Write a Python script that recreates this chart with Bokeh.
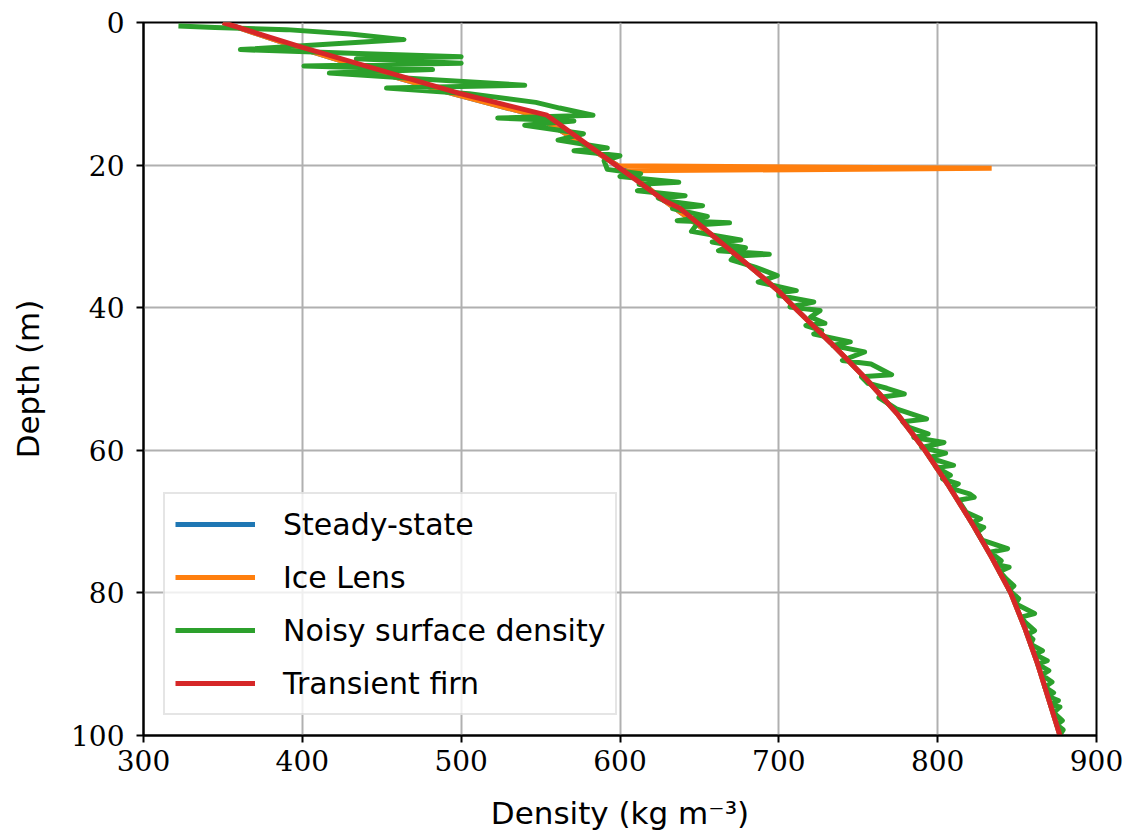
from bokeh.plotting import figure
from bokeh.models import Range1d, FixedTicker
from bokeh.embed import file_html
from bokeh.resources import INLINE

# ---- data ----
ss_depth = [0, 3.5, 7, 10, 13, 16, 20.1, 20.8, 25, 30, 35, 37.7, 40, 45, 50, 55, 60, 65, 70, 75, 80, 85, 90, 95, 100]
ss_density = [350, 397, 448, 495, 546, 569, 599, 604, 628, 659, 686, 700, 710, 733, 755, 775, 792, 807, 821, 834, 846, 855, 863, 870, 877]

lens_depth = [0, 3.5, 7, 10, 13, 16, 20.1, 20.45, 20.8, 25, 30, 35, 37.7, 40, 45, 50, 55, 60, 65, 70, 75, 80, 85, 90, 95, 100]
lens_density = [350, 397, 448, 495, 546, 569, 599, 834, 604, 628, 659, 686, 700, 710, 733, 755, 775, 792, 807, 821, 834, 846, 855, 863, 870, 877]

noisy_depth = [0.5, 0.7, 1.0, 1.6, 2.4, 3.8, 4.4, 4.8, 5.1, 5.7, 6.1, 6.6, 7.1, 8.0, 8.8, 9.2, 10.0, 11.2,
               12.0, 13.0, 13.4, 13.8, 14.4, 15.6, 16.5, 17.6, 18.0, 18.7, 19.4, 20.6, 21.2, 21.4, 21.6, 22.4,
               22.7, 23.0, 23.6, 24.3, 24.6, 25.0, 25.7, 26.1, 27.2, 27.8, 28.1, 28.4, 29.3, 30.5, 30.8, 31.6,
               31.8, 32.0, 32.5, 32.8, 33.3, 34.3, 35.5, 36.4, 37.6, 37.9, 38.3, 39.2, 39.9, 40.4, 41.3, 42.2,
               42.5, 43.2, 43.7, 44.8, 45.3, 46.2, 47.4, 47.9, 49.4, 49.7, 50.6, 51.3, 52.1, 52.6, 54.2, 55.6,
               56.0, 56.8, 57.7, 58.2, 58.9, 59.6, 60.4, 61.0, 61.4, 62.1, 62.4, 63.5, 64.0, 64.7, 65.3, 66.1,
               66.6, 67.0, 68.7, 69.6, 70.2, 70.8, 71.5, 72.6, 73.8, 74.3, 75.5, 76.0, 76.4, 77.0, 78.0, 79.0,
               79.6, 80.8, 81.5, 82.9, 83.4, 84.1, 85.3, 85.8, 86.5, 87.2, 88.1, 88.6, 89.5, 90.0, 90.9, 91.5,
               92.5, 93.2, 94.0, 94.5, 95.1, 95.7, 96.0, 96.8, 97.9, 98.5, 99.2, 99.9]
noisy_density = [322, 345, 390, 430, 464, 361, 440, 500, 434, 500, 401, 482, 417, 480, 540, 453, 505, 547,
                 562, 583, 523, 571, 540, 577, 561, 592, 571, 600, 590, 592, 613, 602, 600, 637,
                 612, 618, 611, 641, 624, 628, 652, 633, 655, 636, 669, 648, 645, 676, 658, 679,
                 664, 662, 694, 672, 670, 685, 699, 687, 711, 700, 700, 722, 707, 726, 720, 729,
                 717, 727, 722, 745, 734, 754, 740, 758, 771, 752, 756, 768, 779, 763, 774, 793,
                 778, 782, 794, 785, 804, 790, 805, 795, 800, 810, 799, 808, 803, 813, 808, 820,
                 823, 813, 818, 827, 821.5, 829, 825, 828, 844, 833, 840, 836.5, 845, 839, 843, 848,
                 845, 851, 849, 861, 852.5, 855, 861, 856.5, 860, 858.5, 866, 861, 869, 863, 870, 865.5,
                 872, 867.5, 873, 869.5, 876, 871, 877, 873, 878.5, 875, 879, 877]

tr_depth = [0, 3.5, 10, 13, 20.6, 25, 26.1, 30, 35, 37.7, 40, 45, 50, 55, 60, 65, 70, 75, 80, 85, 90, 95, 100]
tr_density = [350, 400, 500, 554, 601, 628, 638, 659, 686, 700, 710, 733, 755, 775, 792, 807, 821, 834, 846, 855, 863, 870, 877]

x_ticks = [300, 400, 500, 600, 700, 800, 900]
y_ticks = [0, 20, 40, 60, 80, 100]

# ---- figure ----
p = figure(width=1127, height=837, output_backend="svg", toolbar_location=None,
           x_range=Range1d(300, 900), y_range=Range1d(100, 0),
           min_border_left=143, min_border_right=31, min_border_top=22, min_border_bottom=102)
p.background_fill_color = "white"
p.border_fill_color = "white"
p.outline_line_color = "black"
p.outline_line_width = 2

lw = 5
p.line(ss_density, ss_depth, line_color="#1f77b4", line_width=lw, legend_label="Steady-state")
p.line(lens_density, lens_depth, line_color="#ff7f0e", line_width=lw, legend_label="Ice Lens")
p.line(noisy_density, noisy_depth, line_color="#2ca02c", line_width=lw, legend_label="Noisy surface density",
       line_join="round")
p.line(tr_density, tr_depth, line_color="#d62728", line_width=lw, legend_label="Transient firn")

for ax in (p.xaxis[0], p.yaxis[0]):
    ax.axis_line_color = "black"
    ax.axis_line_width = 2
    ax.major_tick_line_color = "black"
    ax.major_tick_line_width = 2
    ax.major_tick_out = 7
    ax.major_tick_in = 0
    ax.minor_tick_line_color = None
    ax.major_label_text_font = "DejaVu Serif"
    ax.major_label_text_font_size = "28px"
    ax.major_label_text_color = "black"
    ax.axis_label_text_font = "DejaVu Sans"
    ax.axis_label_text_font_size = "31px"
    ax.axis_label_text_font_style = "normal"
    ax.axis_label_text_color = "black"

p.xaxis.ticker = FixedTicker(ticks=x_ticks)
p.yaxis.ticker = FixedTicker(ticks=y_ticks)
p.xaxis.axis_label = "Density (kg m\u207b\u00b3)"
p.yaxis.axis_label = "Depth (m)"
p.xaxis.major_label_standoff = 7
p.yaxis.major_label_standoff = 12
p.xaxis.axis_label_standoff = 21
p.yaxis.axis_label_standoff = 22

p.xgrid.ticker = FixedTicker(ticks=x_ticks)
p.ygrid.ticker = FixedTicker(ticks=y_ticks)
for g in (p.xgrid[0], p.ygrid[0]):
    g.grid_line_color = "#b0b0b0"
    g.grid_line_width = 2

lg = p.legend[0]
lg.location = "bottom_left"
lg.margin = 20
lg.padding = 10
lg.spacing = 13
lg.glyph_width = 80
lg.glyph_height = 40
lg.label_height = 40
lg.label_standoff = 28
lg.label_text_font = "DejaVu Sans"
lg.label_text_font_size = "30px"
lg.label_text_color = "black"
lg.border_line_color = "#cccccc"
lg.border_line_width = 2
lg.background_fill_alpha = 0.8

open("out.html", "w").write(file_html(p, INLINE))
